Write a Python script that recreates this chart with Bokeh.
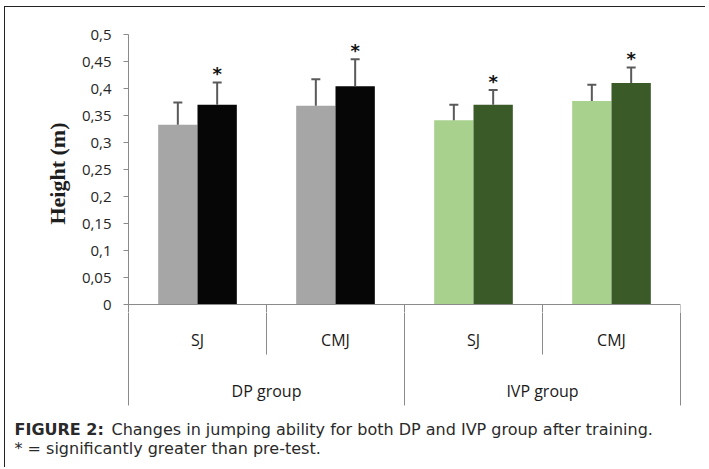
from bokeh.plotting import figure
from bokeh.layouts import column
from bokeh.models import Range1d, FixedTicker, Span
from bokeh.core.properties import value
from bokeh.embed import file_html
from bokeh.resources import INLINE

# ---------------- data ----------------
groups = ["DP group", "IVP group"]
tests = ["SJ", "CMJ"]
pre_mean = [0.333, 0.368, 0.341, 0.377]
pre_sd = [0.041, 0.049, 0.029, 0.030]
post_mean = [0.370, 0.404, 0.370, 0.410]
post_sd = [0.041, 0.050, 0.027, 0.029]
significant = ["*", "*", "*", "*"]
pre_colors = ["#a6a6a6", "#a6a6a6", "#a9d18e", "#a9d18e"]
post_colors = ["#060606", "#060606", "#3a5a28", "#3a5a28"]
y_ticks = [0, 0.05, 0.1, 0.15, 0.2, 0.25, 0.3, 0.35, 0.4, 0.45, 0.5]
y_tick_labels = ["0", "0,05", "0,1", "0,15", "0,2", "0,25", "0,3", "0,35", "0,4", "0,45", "0,5"]
y_title = "Height (m)"
caption_bold = "FIGURE 2:"
caption_line1 = "Changes in jumping ability for both DP and IVP group after training."
caption_line2 = "* = significantly greater than pre-test."

# ---------------- layout constants ----------------
W = 700
ML, MR, MT = 123, 25, 27
VAL_H = 270           # pixels from 0 to the top tick
PAD = 8               # pixels of the bar panel below the zero line
CAT_H = 155           # height of category/caption panel
AXIS_GREY = "#8a8a8a"

n_cat = len(groups) * len(tests)
centers = [i + 0.5 for i in range(n_cat)]
bw = 0.285
x_pre = [c - bw / 2 for c in centers]
x_post = [c + bw / 2 for c in centers]
pre_up = [m + s for m, s in zip(pre_mean, pre_sd)]
post_up = [m + s for m, s in zip(post_mean, post_sd)]
sub_labels = [t for g in groups for t in tests]
group_centers = [len(tests) * (j + 0.5) for j in range(len(groups))]
inner_bounds = [len(tests) * j + k for j in range(len(groups)) for k in range(1, len(tests))]
outer_bounds = [len(tests) * j for j in range(len(groups) + 1)]
all_bounds = outer_bounds + inner_bounds

# ---------------- bar panel ----------------
y_max = y_ticks[-1]
px_val = y_max / VAL_H
p = figure(width=W, height=MT + VAL_H + PAD, output_backend="svg", toolbar_location=None,
           x_range=Range1d(0, n_cat), y_range=Range1d(-PAD * px_val, y_max),
           min_border_left=ML, min_border_top=MT, min_border_right=MR, min_border_bottom=0)
p.outline_line_color = None
p.xgrid.visible = False
p.ygrid.visible = False
p.xaxis.visible = False

yax = p.yaxis[0]
yax.ticker = FixedTicker(ticks=y_ticks)
yax.major_label_overrides = {t: l for t, l in zip(y_ticks, y_tick_labels)}
yax.minor_tick_line_color = None
yax.major_tick_in = 0
yax.major_tick_out = 5
yax.axis_line_color = AXIS_GREY
yax.major_tick_line_color = AXIS_GREY
yax.major_label_standoff = 12
yax.major_label_text_font = "Open Sans"
yax.major_label_text_font_size = "15px"
yax.major_label_text_color = "#262626"
yax.axis_label = y_title
yax.axis_label_text_font = "Liberation Serif"
yax.axis_label_text_font_style = "bold"
yax.axis_label_text_font_size = "22px"
yax.axis_label_text_color = "#1e1e1e"
yax.axis_label_standoff = 9

p.vbar(x=x_pre, top=pre_mean, bottom=0, width=bw, fill_color=pre_colors, line_color=None)
p.vbar(x=x_post, top=post_mean, bottom=0, width=bw, fill_color=post_colors, line_color=None)

err_color = "#5a5a5a"
p.segment(x0=x_pre, y0=pre_mean, x1=x_pre, y1=pre_up, line_color=err_color, line_width=2)
p.segment(x0=x_post, y0=post_mean, x1=x_post, y1=post_up, line_color=err_color, line_width=2)
p.scatter(x=x_pre, y=pre_up, marker="dash", size=9, line_color=err_color, line_width=2)
p.scatter(x=x_post, y=post_up, marker="dash", size=9, line_color=err_color, line_width=2)

p.text(x=x_post, y=post_up, text=significant, text_align="center", text_baseline="alphabetic",
       y_offset=-9, text_font=value("DejaVu Sans"), text_font_style="bold",
       text_font_size="18px", text_color="#111111")

# category axis line and the top part of its separators
p.add_layout(Span(location=0, dimension="width", line_color=AXIS_GREY, line_width=1))
p.segment(x0=all_bounds, y0=[0] * len(all_bounds), x1=all_bounds, y1=[-2 * PAD * px_val] * len(all_bounds),
          line_color=AXIS_GREY, line_width=1)

# ---------------- category axis + caption panel ----------------
ppu = (W - ML - MR) / n_cat       # pixels per category unit
b = figure(width=W, height=CAT_H, output_backend="svg", toolbar_location=None,
           x_range=Range1d(-ML / ppu, n_cat + MR / ppu), y_range=Range1d(PAD + CAT_H, PAD),
           min_border_left=0, min_border_right=0, min_border_top=0, min_border_bottom=0)
b.frame_align = False
b.outline_line_color = None
b.xgrid.visible = False
b.ygrid.visible = False
b.xaxis.visible = False
b.yaxis.visible = False

inner_len, outer_len = 50, 101
b.segment(x0=inner_bounds, y0=[0] * len(inner_bounds), x1=inner_bounds, y1=[inner_len] * len(inner_bounds),
          line_color=AXIS_GREY, line_width=1)
b.segment(x0=outer_bounds, y0=[0] * len(outer_bounds), x1=outer_bounds, y1=[outer_len] * len(outer_bounds),
          line_color=AXIS_GREY, line_width=1)
b.text(x=centers, y=[35] * n_cat, text=sub_labels, text_align="center", text_baseline="alphabetic",
       text_font=value("Open Sans"), text_font_size="16px", text_color="#1a1a1a")
b.text(x=group_centers, y=[86] * len(groups), text=groups, text_align="center", text_baseline="alphabetic",
       text_font=value("Open Sans"), text_font_size="16px", text_color="#1a1a1a")

x0 = b.x_range.start
cap = dict(text_align="left", text_baseline="alphabetic", text_font=value("DejaVu Sans"),
           text_font_size="16px", text_color="#2a2a2a")
b.text(x=[x0], y=[125], text=[caption_bold], x_offset=9, text_font_style="bold", **cap)
b.text(x=[x0], y=[125], text=[caption_line1], x_offset=106, **cap)
b.text(x=[x0], y=[144], text=[caption_line2], x_offset=9, **cap)

layout = column(p, b, spacing=0,
                styles={"margin-left": "4px", "margin-top": "6px",
                        "border-left": "1.5px solid #222222", "border-top": "1.5px solid #222222"})

open("out.html", "w").write(file_html(layout, INLINE))
